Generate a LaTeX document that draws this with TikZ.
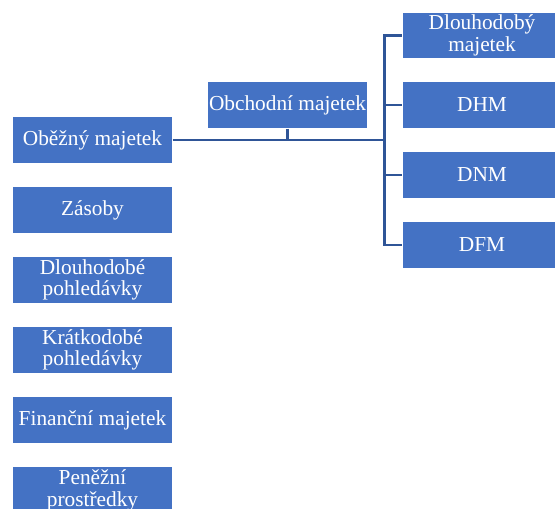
\documentclass[tikz,border=0pt]{standalone}
\usepackage{fontspec}
\setmainfont{Liberation Serif}
\definecolor{boxblue}{HTML}{4472C4}
\definecolor{linkblue}{HTML}{2F5597}
\begin{document}
\begin{tikzpicture}[x=0.75pt,y=-0.75pt,
  box/.style={fill=boxblue,draw=white,line width=0.6pt,text=white,align=center,
    minimum width=119.5pt,minimum height=35pt,inner sep=0pt,
    font=\fontsize{16}{16.3}\selectfont},
  conn/.style={draw=linkblue,line width=2.1pt}]
\useasboundingbox (0,0) rectangle (555,508);
\clip (0,0) rectangle (555,508);
% left column
\node[box] (obe) at (92.5,140) {Oběžný majetek};
\node[box] (zas) at (92.5,210) {Zásoby};
\node[box] (dlp) at (92.5,280) {Dlouhodobé\\pohledávky};
\node[box] (krp) at (92.5,350) {Krátkodobé\\pohledávky};
\node[box] (fin) at (92.5,420) {Finanční majetek};
\node[box] (pen) at (92.5,490) {Peněžní\\prostředky};
% middle
\node[box] (obch) at (287.5,105) {Obchodní majetek};
% right column
\node[box] (dlm) at (482,35.3) {Dlouhodobý\\majetek};
\node[box] (dhm) at (482,105) {DHM};
\node[box] (dnm) at (482,175) {DNM};
\node[box] (dfm) at (482,245) {DFM};
% connectors
\coordinate (hub) at (384.5,140);
\draw[conn] (obe.east) -- (hub);
\draw[conn] (obch.south) -- (obch.south |- hub);
\draw[conn] (hub) |- (dlm.west);
\draw[conn] (hub) |- (dhm.west);
\draw[conn] (hub) |- (dnm.west);
\draw[conn] (hub) |- (dfm.west);
\end{tikzpicture}
\end{document}
